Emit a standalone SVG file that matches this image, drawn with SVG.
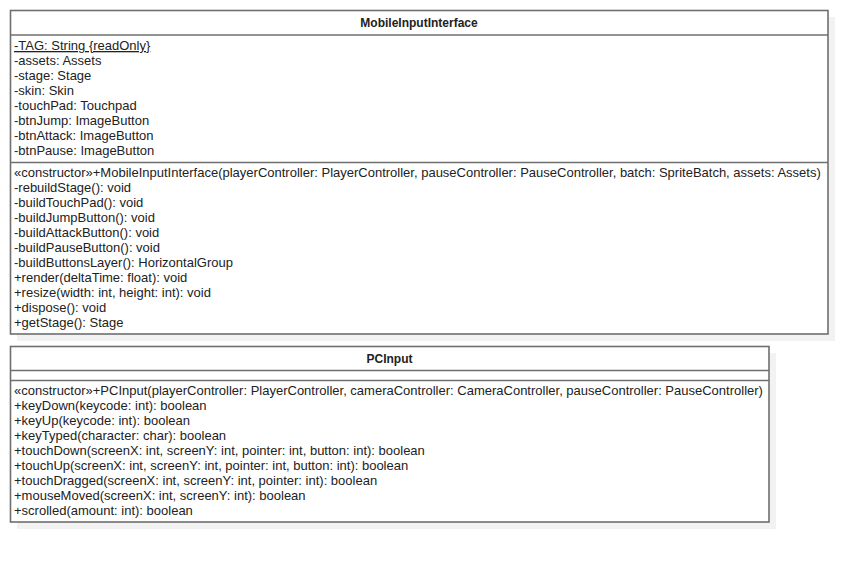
<svg xmlns="http://www.w3.org/2000/svg" width="867" height="563" viewBox="0 0 867 563">
<style>
.shadow{fill:#f2f2f2;stroke:none}
.box{fill:#ffffff;stroke:#6f6f6f;stroke-width:1.6}
.sep{stroke:#6f6f6f;stroke-width:1.6}
text{font-family:"Liberation Sans",Arial,sans-serif;font-size:13px;fill:#222}
.title{font-weight:bold;text-anchor:middle;font-size:12px}
</style>
<rect width="867" height="563" fill="#ffffff"/>
<g id="MobileInputInterface">
<rect class="shadow" x="17" y="17" width="818" height="324"/>
<rect class="box" x="10.5" y="10.5" width="817.5" height="323.5"/>
<line class="sep" x1="10.5" y1="35" x2="828" y2="35"/>
<line class="sep" x1="10.5" y1="162.5" x2="828" y2="162.5"/>
<text class="title" x="419" y="26.5">MobileInputInterface</text>
<text x="14" y="50" text-decoration="underline">-TAG: String {readOnly}</text>
<text x="14" y="65">-assets: Assets</text>
<text x="14" y="80">-stage: Stage</text>
<text x="14" y="95">-skin: Skin</text>
<text x="14" y="110">-touchPad: Touchpad</text>
<text x="14" y="125">-btnJump: ImageButton</text>
<text x="14" y="140">-btnAttack: ImageButton</text>
<text x="14" y="155">-btnPause: ImageButton</text>
<text x="14" y="177">«constructor»+MobileInputInterface(playerController: PlayerController, pauseController: PauseController, batch: SpriteBatch, assets: Assets)</text>
<text x="14" y="192">-rebuildStage(): void</text>
<text x="14" y="207">-buildTouchPad(): void</text>
<text x="14" y="222">-buildJumpButton(): void</text>
<text x="14" y="237">-buildAttackButton(): void</text>
<text x="14" y="252">-buildPauseButton(): void</text>
<text x="14" y="267">-buildButtonsLayer(): HorizontalGroup</text>
<text x="14" y="282">+render(deltaTime: float): void</text>
<text x="14" y="297">+resize(width: int, height: int): void</text>
<text x="14" y="312">+dispose(): void</text>
<text x="14" y="327">+getStage(): Stage</text>
</g>
<g id="PCInput">
<rect class="shadow" x="17" y="353" width="759" height="176"/>
<rect class="box" x="10.5" y="346.5" width="758.5" height="175.5"/>
<line class="sep" x1="10.5" y1="370.5" x2="769" y2="370.5"/>
<line class="sep" x1="10.5" y1="380.5" x2="769" y2="380.5"/>
<text class="title" x="389.5" y="362.5">PCInput</text>
<text x="14" y="395">«constructor»+PCInput(playerController: PlayerController, cameraController: CameraController, pauseController: PauseController)</text>
<text x="14" y="410">+keyDown(keycode: int): boolean</text>
<text x="14" y="425">+keyUp(keycode: int): boolean</text>
<text x="14" y="440">+keyTyped(character: char): boolean</text>
<text x="14" y="455">+touchDown(screenX: int, screenY: int, pointer: int, button: int): boolean</text>
<text x="14" y="470">+touchUp(screenX: int, screenY: int, pointer: int, button: int): boolean</text>
<text x="14" y="485">+touchDragged(screenX: int, screenY: int, pointer: int): boolean</text>
<text x="14" y="500">+mouseMoved(screenX: int, screenY: int): boolean</text>
<text x="14" y="515">+scrolled(amount: int): boolean</text>
</g>
<g id="connectors"></g>
</svg>
